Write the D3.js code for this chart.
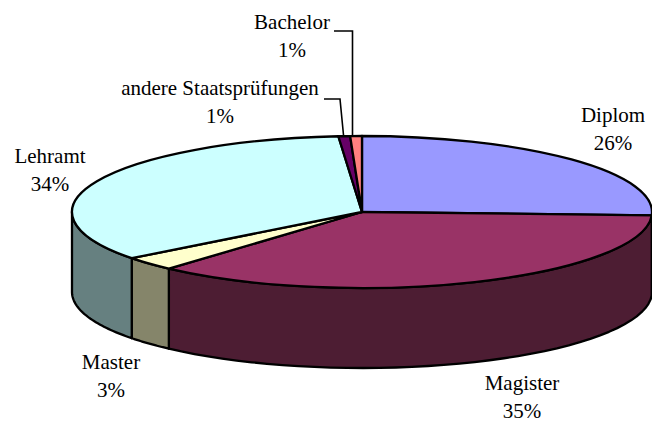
<!DOCTYPE html>
<html><head><meta charset="utf-8">
<script src="https://cdn.jsdelivr.net/npm/d3@7"></script>
<style>html,body{margin:0;padding:0;background:#fff}svg{display:block}text{font-family:"Liberation Serif",serif;font-size:21px;fill:#000}</style>
</head><body><svg width="652" height="423"></svg>
<script>
const categories=["Diplom","Magister","Master","Lehramt","andere Staatsprüfungen","Bachelor"];
const values=[25.7,35.9,3.0,34.1,0.65,0.65];
const percentLabels=["26%","35%","3%","34%","1%","1%"];
const topColors=["#9999ff","#993366","#ffffcc","#ccffff","#660066","#ff8080"];
const sideColors=["#4d4d80","#4d1d33","#85856a","#668080","#330033","#804040"];
const labelCenters=[[613,122],[522,390],[111,369],[50,163],[220,95],[292,29]];
const leaders=[null,null,null,null,[[324,99],[340,99],[343.5,135]],[[334,31],[352.5,31],[352.5,135]]];

const cx=362,cy=212,rx=290,ry=76,depth=80;
const svg=d3.select("svg");
const pie=d3.pie().sort(null).value(d=>d);
const arcs=pie(values);
const arc=d3.arc().innerRadius(0).outerRadius(rx);
const px=a=>cx+rx*Math.sin(a), py=a=>cy-ry*Math.cos(a);
const line=d3.line();

// sides (front half only)
const H=Math.PI/2, E=3*Math.PI/2;
arcs.forEach((d,i)=>{
  const a0=Math.max(d.startAngle,H), a1=Math.min(d.endAngle,E);
  if(a1<=a0) return;
  const ts=d3.range(0,41).map(k=>a0+(a1-a0)*k/40);
  const pts=ts.map(t=>[px(t),py(t)]).concat(ts.slice().reverse().map(t=>[px(t),py(t)+depth]));
  svg.append("path").attr("d",line(pts)+"Z").attr("fill",sideColors[i])
    .attr("stroke","#000").attr("stroke-width",2.3).attr("stroke-linejoin","round");
});
// top
svg.append("g").attr("transform",`translate(${cx},${cy}) scale(1,${ry/rx})`)
  .selectAll("path").data(arcs).join("path")
  .attr("d",arc).attr("fill",(d,i)=>topColors[i])
  .attr("stroke","#000").attr("stroke-width",2.3).attr("stroke-linejoin","round")
  .attr("vector-effect","non-scaling-stroke");
// leaders
leaders.forEach(l=>{ if(l) svg.append("path").attr("d",line(l)).attr("fill","none").attr("stroke","#000").attr("stroke-width",1.6); });
// labels
categories.forEach((c,i)=>{
  const [x,y]=labelCenters[i];
  svg.append("text").attr("x",x).attr("y",y).attr("text-anchor","middle").text(c);
  svg.append("text").attr("x",x).attr("y",y+28).attr("text-anchor","middle").text(percentLabels[i]);
});
</script></body></html>
